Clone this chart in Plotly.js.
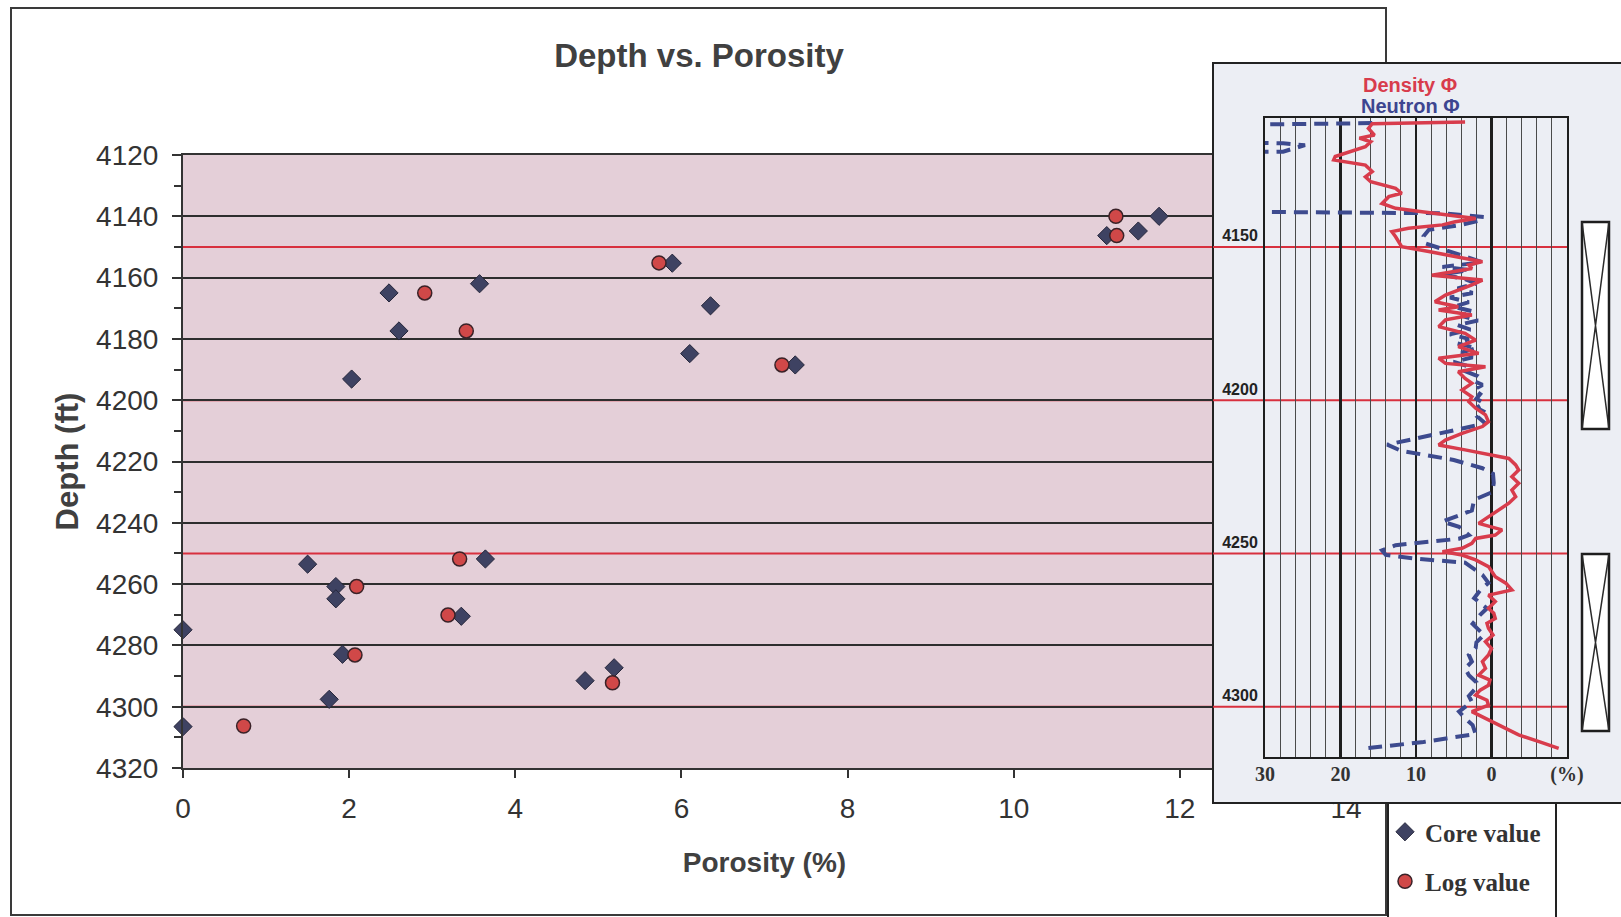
<!DOCTYPE html>
<html><head><meta charset="utf-8">
<script src="https://cdn.plot.ly/plotly-3.0.1.min.js"></script>
<style>html,body{margin:0;padding:0;background:#fff}</style>
</head><body><div id="chart" style="width:1621px;height:917px"></div>
<script>
// ---- data ----
const coreDepth = [4140, 4144.8, 4146.3, 4155.3, 4162, 4165, 4169.2, 4177.4, 4184.8, 4188.5, 4193.1, 4251.8, 4253.5, 4260.8, 4264.8, 4270.5, 4274.9, 4282.9, 4287.3, 4291.5, 4297.6, 4306.5];
const corePorosity = [11.75, 11.50, 11.12, 5.89, 3.57, 2.48, 6.35, 2.60, 6.10, 7.37, 2.03, 3.64, 1.50, 1.84, 1.84, 3.35, 0, 1.92, 5.19, 4.84, 1.76, 0];
const logDepth = [4140, 4146.3, 4155.2, 4165, 4177.4, 4188.5, 4251.8, 4260.8, 4270.1, 4283.1, 4292.2, 4306.3];
const logPorosity = [11.23, 11.24, 5.73, 2.91, 3.41, 7.21, 3.33, 2.09, 3.19, 2.07, 5.17, 0.73];

const densityDepth = [4109.2,4109.8,4111.3,4113.5,4114.5,4115.7,4117.3,4119.0,4120.5,4121.6,4123.3,4125.4,4127.1,4128.7,4130.9,4132.5,4133.6,4135.8,4137.4,4138.5,4139.9,4140.7,4141.8,4142.8,4143.9,4145.0,4146.7,4148.3,4149.9,4151.5,4153.2,4154.8,4155.9,4157.0,4159.2,4160.8,4162.4,4164.0,4165.7,4167.9,4169.5,4170.6,4172.2,4173.8,4176.0,4178.2,4180.4,4182.5,4184.7,4186.3,4188.0,4189.1,4190.7,4192.9,4194.5,4196.7,4198.9,4200.5,4202.6,4204.8,4207.0,4208.6,4210.8,4213.0,4214.6,4216.2,4219.0,4221.1,4222.8,4225.0,4227.1,4229.3,4231.5,4233.6,4235.8,4238.0,4240.2,4242.3,4244.0,4245.1,4246.7,4248.3,4249.4,4250.5,4252.1,4254.3,4257.6,4259.7,4261.9,4263.6,4265.7,4267.9,4269.5,4271.2,4272.8,4274.4,4276.6,4278.8,4281.0,4283.1,4285.3,4287.5,4289.7,4291.3,4293.0,4294.6,4296.2,4297.9,4299.5,4301.6,4303.8,4306.0,4307.6,4309.2,4311.4,4313.6];
const densityPhi = [3.5,15.8,16.3,15.5,17.5,16.0,16.7,19.0,20.7,20.9,16.7,15.8,16.7,16.0,12.7,11.9,13.6,14.5,12.7,9.2,4.8,2.1,4.8,6.5,11.0,13.2,12.7,12.3,11.9,8.3,4.8,1.2,3.0,2.6,7.9,1.2,2.6,4.4,6.1,7.5,4.4,7.0,2.6,6.1,7.0,3.5,2.1,4.4,1.7,7.0,6.1,0.8,4.4,3.5,2.6,3.9,2.6,3.0,2.1,0.8,0.4,1.2,3.9,6.1,7.0,3.5,-2.3,-3.2,-3.6,-2.7,-3.6,-2.7,-3.2,-2.3,-1.0,0.4,1.7,-1.4,-0.5,2.1,2.6,3.9,6.5,3.9,2.1,0.4,-0.5,-1.9,-2.7,0.4,-0.5,0.4,-0.3,-0.5,0.6,0.4,-0.2,0.8,0.0,0.4,1.2,0.8,1.7,0.2,0.4,1.5,2.1,0.6,0.4,2.6,0.8,-1.0,-2.4,-3.6,-6.3,-8.9];

const neutronDepth = [4109.6,4110.3,4115.6,4116.2,4116.8,4118.9,4119.3,4138.4,4139.0,4140.2,4141.5,4142.8,4144.4,4146.5,4148.8,4151.0,4153.3,4155.0,4156.5,4157.5,4159.0,4160.5,4162.0,4163.5,4165.0,4166.5,4168.0,4169.5,4171.0,4172.5,4174.0,4175.5,4177.0,4178.5,4180.0,4181.5,4183.0,4184.5,4186.0,4187.5,4189.0,4190.5,4192.0,4193.5,4195.0,4196.5,4198.0,4199.5,4201.0,4202.5,4204.0,4205.5,4207.6,4211.0,4214.5,4216.5,4219.5,4222.2,4224.0,4227.0,4230.0,4232.5,4236.0,4239.6,4241.3,4244.0,4245.2,4247.3,4249.0,4250.5,4251.7,4253.0,4257.0,4259.6,4262.0,4264.6,4267.9,4270.0,4273.0,4276.6,4279.0,4280.9,4283.1,4285.3,4287.5,4289.7,4292.0,4294.0,4296.5,4298.4,4300.0,4301.6,4303.8,4306.0,4308.9,4311.5,4313.5];
const neutronPhi = [15.8,40,40,27.6,24.7,27.6,40,40,6.5,1.0,1.8,4.0,8.3,9.0,8.8,6.0,3.0,1.2,6.5,3.0,6.5,3.5,2.0,4.5,2.5,5.5,3.0,5.0,2.5,4.0,1.8,4.5,2.8,5.5,3.0,4.5,2.0,4.0,2.5,5.0,3.0,3.5,2.0,2.5,1.2,2.3,1.5,2.0,1.0,2.0,0.8,1.8,0.8,7.0,13.8,12.0,5.0,1.2,-0.2,-0.3,-0.1,2.3,2.6,6.5,4.3,3.0,4.3,12.7,14.5,14.0,10.0,3.5,1.2,0.4,1.5,2.3,0.6,1.5,2.5,1.0,2.0,2.1,3.0,2.6,3.5,3.0,2.0,2.1,3.0,2.6,3.5,4.3,3.5,2.5,2.1,9.0,16.3];

const markerDepths = [4150, 4200, 4250, 4300];
const coredTop = [4141.9, 4250.2];
const coredBase = [4209.4, 4307.9];
const xTicks = [0, 2, 4, 6, 8, 10, 12, 14];
const yTicks = [4120, 4140, 4160, 4180, 4200, 4220, 4240, 4260, 4280, 4300, 4320];
const trackTicks = [30, 20, 10, 0, -10];
const trackTickText = ['30', '20', '10', '0', '(%)'];

// ---- geometry (pixels) ----
const W = 1621, H = 917;
const L = 183, R = 1346, T = 155, B = 768;
const D0 = 4120, D1 = 4320;
const fx = p => p / W;
const fy = p => 1 - p / H;
const dAt = p => D0 + (p - T) * (D1 - D0) / (B - T);

const SANS = 'Liberation Sans, Arial, sans-serif';
const SERIF = 'Liberation Serif, Times New Roman, serif';

const traces = [
  {x: corePorosity, y: coreDepth, type: 'scatter', mode: 'markers', name: 'Core value',
   legendgroup: 'core', cliponaxis: false,
   marker: {symbol: 'diamond', size: 14, color: '#3e4262', line: {color: '#25263a', width: 1}},
   xaxis: 'x', yaxis: 'y'},
  {x: logPorosity, y: logDepth, type: 'scatter', mode: 'markers', name: 'Log value',
   legendgroup: 'log', cliponaxis: false,
   marker: {symbol: 'circle', size: 14, color: '#d04848', line: {color: '#3a2228', width: 1.5}},
   xaxis: 'x', yaxis: 'y'},
  {x: [], y: [], type: 'scatter', mode: 'lines', showlegend: false, xaxis: 'x2', yaxis: 'y2', hoverinfo: 'skip'},
  {x: neutronPhi, y: neutronDepth, type: 'scatter', mode: 'lines', name: 'Neutron Φ', showlegend: false,
   line: {color: '#3d4a8e', width: 4, dash: '14px,8px'}, xaxis: 'x3', yaxis: 'y3'},
  {x: densityPhi, y: densityDepth, type: 'scatter', mode: 'lines', name: 'Density Φ', showlegend: false,
   line: {color: '#d83c4c', width: 3.5}, xaxis: 'x3', yaxis: 'y3'}
];

const shapes = [];
// outer chart frame
shapes.push({type: 'rect', xref: 'paper', yref: 'paper', x0: fx(11), x1: fx(1386), y0: fy(915), y1: fy(8),
  line: {color: '#3a3a3a', width: 2}, fillcolor: 'rgba(0,0,0,0)', layer: 'below'});
// legend box
shapes.push({type: 'rect', xref: 'paper', yref: 'paper', x0: fx(1388), x1: fx(1556), y0: -0.05, y1: fy(803),
  line: {color: '#222', width: 2}, fillcolor: 'rgba(0,0,0,0)', layer: 'below'});
// main plot background
shapes.push({type: 'rect', xref: 'x', yref: 'y', x0: 0, x1: 14, y0: D0, y1: D1,
  line: {width: 0}, fillcolor: '#e4cfd8', layer: 'below'});
// main red marker lines
markerDepths.forEach(d => shapes.push({type: 'line', xref: 'x', yref: 'y', x0: 0, x1: 14, y0: d, y1: d,
  line: {color: '#d8303e', width: 2}, layer: 'below'}));
// inset panel
shapes.push({type: 'rect', xref: 'x2', yref: 'y2', x0: 1213, x1: 1700, y0: dAt(63), y1: dAt(803),
  line: {color: '#222', width: 2}, fillcolor: '#eceef4', layer: 'below'});
markerDepths.forEach(d => shapes.push({type: 'line', xref: 'x2', yref: 'y2', x0: 1213, x1: 1569, y0: d, y1: d,
  line: {color: '#d8303e', width: 2}, layer: 'below'}));
// cored intervals
for (let i = 0; i < coredTop.length; i++) {
  const a = 1582, b = 1609, t = coredTop[i], s = coredBase[i];
  shapes.push({type: 'rect', xref: 'x2', yref: 'y2', x0: a, x1: b, y0: t, y1: s,
    line: {color: '#1e1e1e', width: 2.5}, fillcolor: '#ffffff', layer: 'below'});
  shapes.push({type: 'path', xref: 'x2', yref: 'y2', path: `M${a},${t} L${b},${s} M${b},${t} L${a},${s}`,
    line: {color: '#2a2a2a', width: 1.5}, layer: 'below'});
}

const layout = {
  width: W, height: H, autosize: false,
  margin: {l: 0, r: 0, t: 0, b: 0, pad: 0},
  paper_bgcolor: '#ffffff', plot_bgcolor: 'rgba(0,0,0,0)',
  showlegend: true,
  title: {text: 'Depth vs. Porosity', x: 699 / W, xanchor: 'center', y: fy(55), yanchor: 'middle',
    font: {family: SANS, size: 33, color: '#404040', weight: 'bold'}},
  xaxis: {domain: [fx(L), fx(R)], range: [0, 14], anchor: 'y', tickvals: xTicks,
    ticks: 'outside', ticklen: 8, tickwidth: 2, tickcolor: '#333',
    showline: true, mirror: true, linecolor: '#333', linewidth: 2,
    showgrid: false, zeroline: false, ticklabelstandoff: 6,
    tickfont: {family: SANS, size: 28, color: '#333'},
    title: {text: 'Porosity (%)', standoff: 30, font: {family: SANS, size: 28, color: '#404040', weight: 'bold'}}},
  yaxis: {domain: [fy(B), fy(T)], range: [D1, D0], anchor: 'x', tickvals: yTicks,
    ticks: 'outside', ticklen: 9, tickwidth: 2, tickcolor: '#333',
    showline: true, mirror: true, linecolor: '#333', linewidth: 2,
    showgrid: true, gridcolor: '#2e2e2e', gridwidth: 2, zeroline: false, ticklabelstandoff: 8,
    minor: {dtick: 10, tick0: 4120, ticks: 'outside', ticklen: 7, tickwidth: 2, tickcolor: '#333', showgrid: false},
    tickfont: {family: SANS, size: 28, color: '#333'},
    title: {text: 'Depth (ft)', standoff: 8, font: {family: SANS, size: 31, color: '#404040', weight: 'bold'}}},
  xaxis2: {domain: [fx(1205), 1], range: [1205, W], anchor: 'y2', visible: false, fixedrange: true},
  yaxis2: {domain: [fy(830), fy(50)], range: [dAt(830), dAt(50)], anchor: 'x2', visible: false, fixedrange: true},
  xaxis3: {domain: [fx(1265), fx(1567)], range: [30, -10], anchor: 'y3', tickvals: trackTicks, ticktext: trackTickText,
    ticks: '', ticklen: 0, showgrid: true, gridcolor: '#1e1e1e', gridwidth: 2.5,
    minor: {dtick: 2, tick0: 0, showgrid: true, gridcolor: '#4a4a4a', gridwidth: 1, ticks: ''},
    showline: true, mirror: true, linecolor: '#1e1e1e', linewidth: 2, zeroline: false, ticklabelstandoff: -2,
    tickfont: {family: SERIF, size: 20, color: '#333', weight: 'bold'}},
  yaxis3: {domain: [fy(757), fy(118)], range: [dAt(757), dAt(118)], anchor: 'x3', tickvals: markerDepths,
    ticks: '', ticklabelposition: 'outside top', showgrid: false, zeroline: false,
    showline: true, mirror: true, linecolor: '#1e1e1e', linewidth: 2, ticklabelstandoff: 2,
    tickfont: {family: SANS, size: 16, color: '#222', weight: 'bold'}},
  legend: {x: fx(1385), y: fy(809), xanchor: 'left', yanchor: 'top', bgcolor: 'rgba(0,0,0,0)', borderwidth: 0,
    tracegroupgap: 14, font: {family: SERIF, size: 25, color: '#333', weight: 'bold'}},
  annotations: [
    {xref: 'paper', yref: 'paper', x: fx(1410), y: fy(85), xanchor: 'center', yanchor: 'middle', text: 'Density Φ', showarrow: false,
     font: {family: SANS, size: 20, color: '#d83c4c', weight: 'bold'}},
    {xref: 'paper', yref: 'paper', x: fx(1410), y: fy(106), xanchor: 'center', yanchor: 'middle', text: 'Neutron Φ', showarrow: false,
     font: {family: SANS, size: 20, color: '#3d4590', weight: 'bold'}}
  ],
  shapes: shapes
};

Plotly.newPlot('chart', traces, layout, {displayModeBar: false, staticPlot: true});
</script>
</body></html>
